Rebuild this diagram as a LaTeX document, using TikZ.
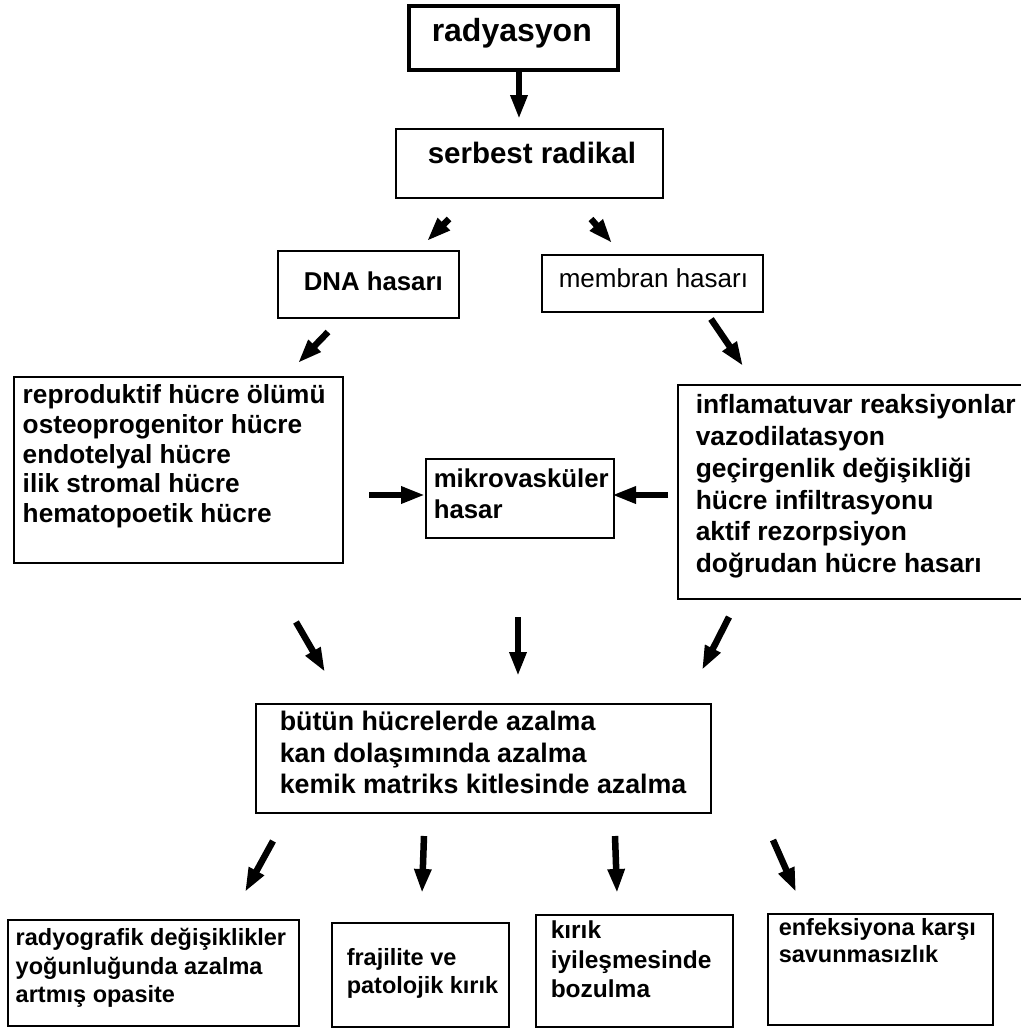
\documentclass[tikz,border=0pt]{standalone}
\usepackage{fontspec}
\setmainfont{Liberation Sans}
\usetikzlibrary{arrows.meta, positioning}

% box text: width, height, left indent, top space, lines
\newcommand{\boxtext}[5]{\parbox[t][#2][t]{#1}{\raggedright\leftskip=#3\relax\vspace*{#4}\strut#5}}

\begin{document}
\begin{tikzpicture}[x=1pt, y=-1pt,
	box/.style={draw, line width=1.5pt, inner sep=0pt, anchor=north west},
	arr/.style={line width=6.5pt, -{Triangle[length=24pt,width=16pt]}}]
		\useasboundingbox (0,0) rectangle (1020,1028);

		\node[box, line width=3.5pt, font=\fontsize{32}{36}\selectfont\bfseries] (rad) at (407,4) {\boxtext{209pt}{64pt}{23pt}{10.8pt}{radyasyon}};
		\node[box, font=\fontsize{29.5}{34}\selectfont\bfseries] (ser) at (395,128) {\boxtext{267pt}{69pt}{32pt}{11.2pt}{serbest radikal}};
		\node[box, font=\fontsize{25.8}{30}\selectfont\bfseries] (dna) at (277,250) {\boxtext{181pt}{67pt}{26pt}{19pt}{DNA hasarı}};
		\node[box, font=\fontsize{26}{30}\selectfont] (mem) at (541,254) {\boxtext{221pt}{57pt}{17pt}{11.7pt}{membran hasarı}};
		\node[box, font=\fontsize{26.2}{29.7}\selectfont\bfseries] (rep) at (13,376) {\boxtext{329pt}{186pt}{9pt}{6.2pt}{reproduktif hücre ölümü\\ osteoprogenitor hücre\\ endotelyal hücre\\ ilik stromal hücre\\ hematopoetik hücre}};
		\node[box, font=\fontsize{26.4}{31.8}\selectfont\bfseries] (inf) at (677,384) {\boxtext{350pt}{214pt}{18pt}{6.7pt}{inflamatuvar reaksiyonlar\\ vazodilatasyon\\ geçirgenlik değişikliği\\ hücre infiltrasyonu\\ aktif rezorpsiyon\\ doğrudan hücre hasarı}};
		\node[box, font=\fontsize{25.8}{31}\selectfont\bfseries] (mik) at (425,458) {\boxtext{188pt}{79pt}{8pt}{7.3pt}{mikrovasküler\\ hasar}};
		\node[box, font=\fontsize{26.8}{31.5}\selectfont\bfseries] (azl) at (255,703) {\boxtext{455pt}{109pt}{24pt}{5pt}{bütün hücrelerde azalma\\ kan dolaşımında azalma\\ kemik matriks kitlesinde azalma}};
		\node[box, font=\fontsize{23.5}{28.5}\selectfont\bfseries] (rdg) at (7,919) {\boxtext{291pt}{106pt}{8pt}{6pt}{radyografik değişiklikler\\ yoğunluğunda azalma\\ artmış opasite}};
		\node[box, font=\fontsize{23.5}{28}\selectfont\bfseries] (fra) at (331,922) {\boxtext{177pt}{104pt}{15pt}{23.4pt}{frajilite ve\\ patolojik kırık}};
		\node[box, font=\fontsize{24.5}{29.5}\selectfont\bfseries] (kir) at (535,914) {\boxtext{197pt}{112pt}{15pt}{3.4pt}{kırık\\ iyileşmesinde\\ bozulma}};
		\node[box, font=\fontsize{23.5}{27}\selectfont\bfseries] (enf) at (767,913) {\boxtext{225pt}{111pt}{11pt}{3.1pt}{enfeksiyona karşı\\ savunmasızlık}};

		% arrow ends
		\coordinate (s1) at (519,68);   \coordinate (e1) at (519,119);
		\coordinate (s2) at (449,219);  \coordinate (e2) at (427,241);
		\coordinate (s3) at (591,219);  \coordinate (e3) at (612,243);
		\coordinate (s4) at (328,332);  \coordinate (e4) at (298,363);
		\coordinate (s5) at (711,319);  \coordinate (e5) at (743,366);
		\coordinate (s6) at (369,495);  \coordinate (e6) at (425,495);
		\coordinate (s7) at (668,495);  \coordinate (e7) at (612,495);
		\coordinate (s8) at (296,622);  \coordinate (e8) at (325,672);
		\coordinate (s9) at (518,617);  \coordinate (e9) at (518,676);
		\coordinate (s10) at (729,617); \coordinate (e10) at (702,670);
		\coordinate (s11) at (273,841); \coordinate (e11) at (245,892);
		\coordinate (s12) at (424,836); \coordinate (e12) at (422,893);
		\coordinate (s13) at (615,836); \coordinate (e13) at (617,893);
		\coordinate (s14) at (773,840); \coordinate (e14) at (796,892);

		\path[arr]
		(s1) edge (e1)
		(s2) edge (e2)
		(s3) edge (e3)
		(s4) edge (e4)
		(s5) edge (e5)
		(s6) edge (e6)
		(s7) edge (e7)
		(s8) edge (e8)
		(s9) edge (e9)
		(s10) edge (e10)
		(s11) edge (e11)
		(s12) edge (e12)
		(s13) edge (e13)
		(s14) edge (e14);
	\end{tikzpicture}
\end{document}
